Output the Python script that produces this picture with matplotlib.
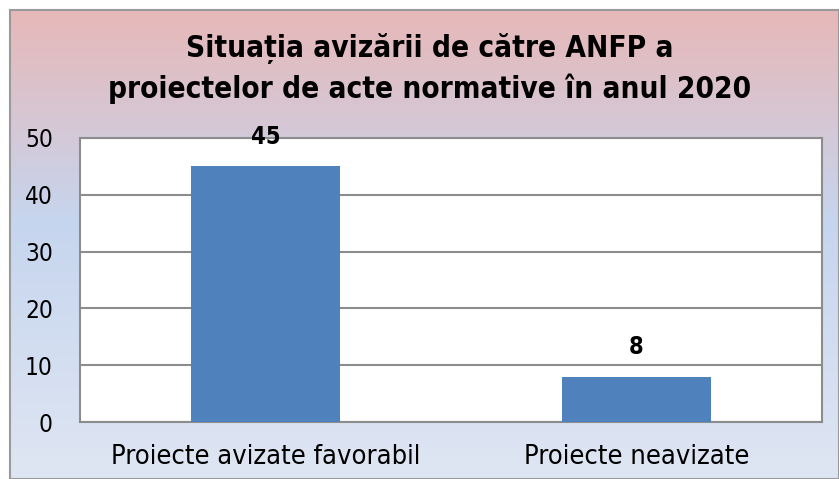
import matplotlib
matplotlib.use("Agg")
import matplotlib.pyplot as plt
import numpy as np
from matplotlib.colors import LinearSegmentedColormap

categories = ["Proiecte avizate favorabil", "Proiecte neavizate"]
values = [45, 8]
yticks = [0, 10, 20, 30, 40, 50]
title = "Situația avizării de către ANFP a\nproiectelor de acte normative în anul 2020"

FAM = "DejaVu Sans"
STRETCH = "condensed"

W, H = 839, 479
fig = plt.figure(figsize=(W/100, H/100), dpi=100)
fig.patch.set_facecolor("white")

# background frame with gradient
bx0, by0 = 10/W, 0.0
bx1, by1 = 1.0, 1 - 10/H
bg = fig.add_axes([bx0, by0, bx1-bx0, by1-by0])
cmap = LinearSegmentedColormap.from_list(
    "g", [(0.0, "#e7b8b8"), (0.45, "#c6d5ee"), (1.0, "#dfe6f3")])
grad = np.linspace(0, 1, 256).reshape(-1, 1)
bg.imshow(grad, aspect="auto", cmap=cmap, extent=[0, 1, 0, 1], origin="upper")
bg.set_xticks([]); bg.set_yticks([])
for s in bg.spines.values():
    s.set_color("#9a9a9a"); s.set_linewidth(1.5)

fig.text(430/W, 1 - 68.5/H, title, ha="center", va="center", fontsize=21.3,
         fontweight="bold", linespacing=1.38, family=FAM, fontstretch=STRETCH)

# plot area
px0, px1 = 80, 822
py0, py1 = 138, 422
ax = fig.add_axes([px0/W, 1 - py1/H, (px1-px0)/W, (py1-py0)/H])
ax.set_facecolor("white")
x = np.arange(len(categories))
bars = ax.bar(x, values, width=0.4, color="#4f81bd", zorder=3)
ax.set_xlim(-0.5, 1.5)
ax.set_ylim(0, 50)
ax.set_yticks(yticks)
ax.set_yticklabels([str(t) for t in yticks], fontsize=17.5, family=FAM,
                   fontstretch=STRETCH)
ax.set_xticks(x)
ax.set_xticklabels(categories, fontsize=19.5, family=FAM, fontstretch=STRETCH)
ax.tick_params(axis="both", length=0)
ax.tick_params(axis="y", pad=19.5)
ax.tick_params(axis="x", pad=16)
ax.grid(axis="y", color="#8c8c8c", linewidth=1.5, zorder=1)
for s in ax.spines.values():
    s.set_color("#8c8c8c"); s.set_linewidth(1.5)
for b, v in zip(bars, values):
    ax.annotate(str(v), (b.get_x() + b.get_width()/2, v), xytext=(0, 21.5),
                textcoords="offset points", ha="center", va="center",
                fontsize=17, fontweight="bold", family=FAM,
                fontstretch=STRETCH, annotation_clip=False)

fig.savefig("out.png", dpi=100)
